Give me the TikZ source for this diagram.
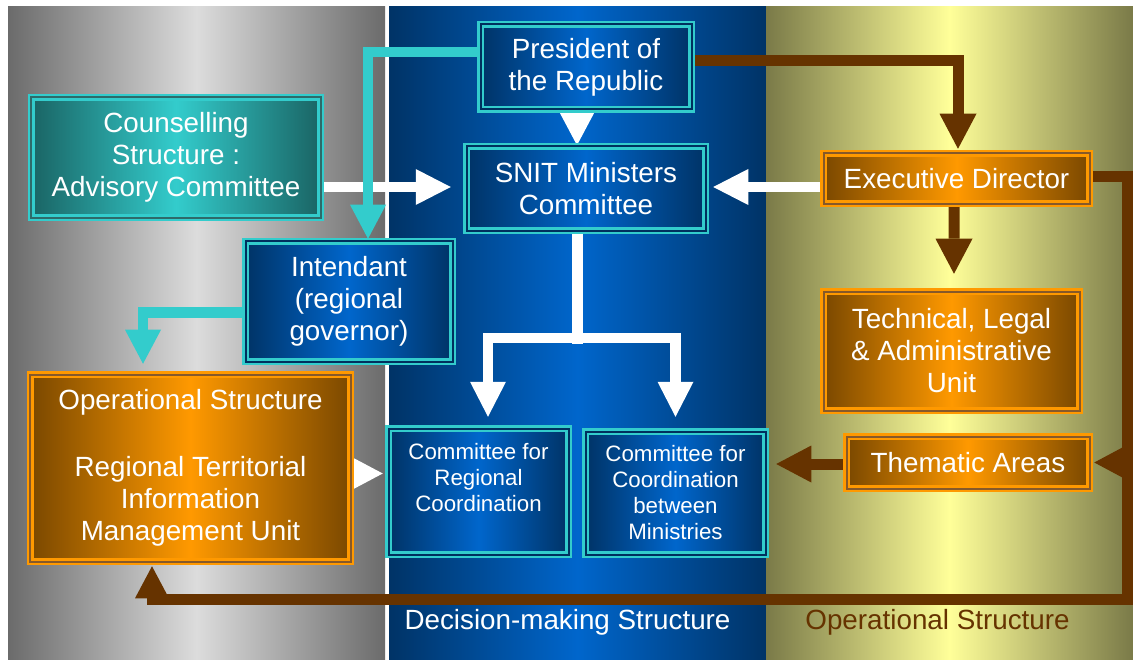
\documentclass[tikz,border=0pt]{standalone}
\usepackage{fontspec}
\setmainfont{Liberation Sans}
\usetikzlibrary{arrows.meta}
\definecolor{tealc}{HTML}{33CCCC}
\definecolor{brownc}{HTML}{663300}
\definecolor{blueedge}{HTML}{003366}
\definecolor{bluemid}{HTML}{0066CC}
\definecolor{navyc}{HTML}{00305E}
\definecolor{oredge}{HTML}{7A4800}
\definecolor{ormid}{HTML}{FF9900}
\definecolor{orgap}{HTML}{86592A}
\definecolor{tealedge}{HTML}{1A6464}
\definecolor{tealgap}{HTML}{2E6A6A}
\definecolor{grayedge}{HTML}{6B6B6B}
\definecolor{graymid}{HTML}{DCDCDC}
\definecolor{oliveedge}{HTML}{7A7A48}
\definecolor{olivemid}{HTML}{FFFF99}
\pgfdeclarelayer{bgcol}
\pgfdeclarelayer{conn}
\pgfsetlayers{bgcol,conn,main}
\newcommand\bigtxt{\fontsize{27.8bp}{32bp}\selectfont}
\newcommand\smalltxt{\fontsize{22.3bp}{26bp}\selectfont}
\begin{document}
\begin{tikzpicture}[x=1bp,y=-1bp,
  boxbase/.style={line width=2.5bp, double distance=2bp, inner sep=0pt, align=center, text=white, font=\bigtxt},
  bluebox/.style={boxbase, draw=tealc, double=navyc, left color=blueedge, right color=blueedge, middle color=bluemid},
  tealbox/.style={boxbase, draw=tealc, double=tealgap, left color=tealedge, right color=tealedge, middle color=tealc},
  orbox/.style={boxbase, draw=ormid, double=orgap, left color=oredge, right color=oredge, middle color=ormid},
  tealarrow/.style={draw=tealc, line width=10.5bp, -{Triangle[length=34bp,width=36bp,line width=0pt]}},
  wharrow/.style={draw=white, line width=10.5bp, -{Triangle[length=35bp,width=36bp,line width=0pt]}},
  whhead/.style={draw=white, line width=1bp, -{Triangle[length=33bp,width=35bp,line width=0pt]}},
  brarrow/.style={draw=brownc, line width=11bp, -{Triangle[length=35bp,width=37bp,line width=0pt]}},
  brhead/.style={draw=brownc, line width=11bp, -{Triangle[length=30bp,width=32bp,line width=0pt]}},
  lbl/.style={font=\bigtxt, anchor=base, inner sep=0pt}
]
\useasboundingbox (0,0) rectangle (1133,660);
\begin{pgfonlayer}{bgcol}
  \fill[white] (0,0) rectangle (1133,660);
  \shade[left color=grayedge, right color=grayedge, middle color=graymid] (8,7) rectangle (385,660);
  \shade[left color=blueedge, right color=blueedge, middle color=bluemid] (389,7) rectangle (766,660);
  \shade[left color=oliveedge, right color=oliveedge, middle color=olivemid] (766,7) rectangle (1133,660);
\end{pgfonlayer}

\node[bluebox, minimum width=211bp, minimum height=85bp] (pres) at (586,67) {President of\\the Republic};
\node[bluebox, minimum width=239bp, minimum height=84bp] (snit) at (586,188.5) {SNIT Ministers\\Committee};
\node[tealbox, minimum width=289bp, minimum height=120bp] (couns) at (176,157.5) {Counselling\\Structure :\\Advisory Committee};
\node[orbox, minimum width=266bp, minimum height=50bp] (exec) at (956.5,178.5) {Executive Director};
\node[bluebox, minimum width=207bp, minimum height=120bp] (intd) at (349,301.5) {Intendant\\(regional\\governor)};
\node[orbox, minimum width=320bp, minimum height=187bp] (opl) at (190.5,468) {Operational Structure\\[35bp]Regional Territorial\\Information\\Management Unit};
\node[bluebox, font=\smalltxt, minimum width=180bp, minimum height=126bp] (crc) at (478.5,491.5) {Committee for\\Regional\\Coordination\\[3bp]\mbox{}};
\node[bluebox, font=\smalltxt, minimum width=180bp, minimum height=123bp] (ccm) at (675.5,493) {Committee for\\Coordination\\between\\Ministries};
\node[orbox, minimum width=256bp, minimum height=119bp] (tla) at (951.5,351) {Technical, Legal\\\& Administrative\\Unit};
\node[orbox, minimum width=243bp, minimum height=52bp] (them) at (968,462.5) {Thematic Areas};

\node[lbl, text=white] (lbldec) at (567.5,629) {Decision-making Structure};
\node[lbl, text=brownc] (lblop) at (937.5,629) {Operational Structure};

\coordinate (cornerR) at (1127.5,599);

\begin{pgfonlayer}{conn}
  % white connectors
  \draw[wharrow, shorten >=14.5bp] (couns.east |- 0,187) -- (snit.west |- 0,187);
  \draw[wharrow, shorten >=6.5bp] (exec.west |- 0,187) -- (snit.east |- 0,187);
  \draw[whhead] ([xshift=-9bp]pres.south) -- ([xshift=-9bp]snit.north);
  \draw[draw=white, line width=11bp] ([xshift=-8.5bp]snit.south) -- ([xshift=-8.5bp]snit.south |- 0,343.5);
  \coordinate (split) at ([xshift=-8.5bp]snit.south |- 0,338);
  \draw[wharrow, shorten >=10.5bp] (split) -| ([xshift=9.5bp]crc.north);
  \draw[wharrow, shorten >=13.5bp] (split) -| (ccm.north);
  \draw[whhead, shorten >=4.5bp] (opl.east |- 0,473.5) -- (crc.west |- 0,473.5);
  % teal connectors
  \draw[tealarrow, shorten >=1.5bp] (pres.west |- 0,52) -| ([xshift=19bp]intd.north);
  \draw[tealarrow, shorten >=9.5bp] (intd.west |- 0,312.5) -| ([xshift=-47.5bp]opl.north);
  % brown connectors
  \draw[brarrow, shorten >=3.5bp] (pres.east |- 0,61) -| ([xshift=1.5bp]exec.north);
  \draw[brarrow, shorten >=16.5bp] ([xshift=-2.5bp]exec.south) -- ([xshift=2.5bp]tla.north);
  \draw[draw=brownc, line width=11bp, -{Triangle[length=32bp,width=34bp,line width=0pt]}, shorten >=3.5bp] (exec.east |- 0,177) -| (cornerR) -| ([xshift=-38.5bp]opl.south);
  \draw[brhead, shorten >=3.5bp] (cornerR |- them.east) -- (them.east);
  \draw[brarrow, shorten >=9.5bp] (them.west |- 0,464) -- (ccm.east |- 0,464);
\end{pgfonlayer}
\end{tikzpicture}
\end{document}
